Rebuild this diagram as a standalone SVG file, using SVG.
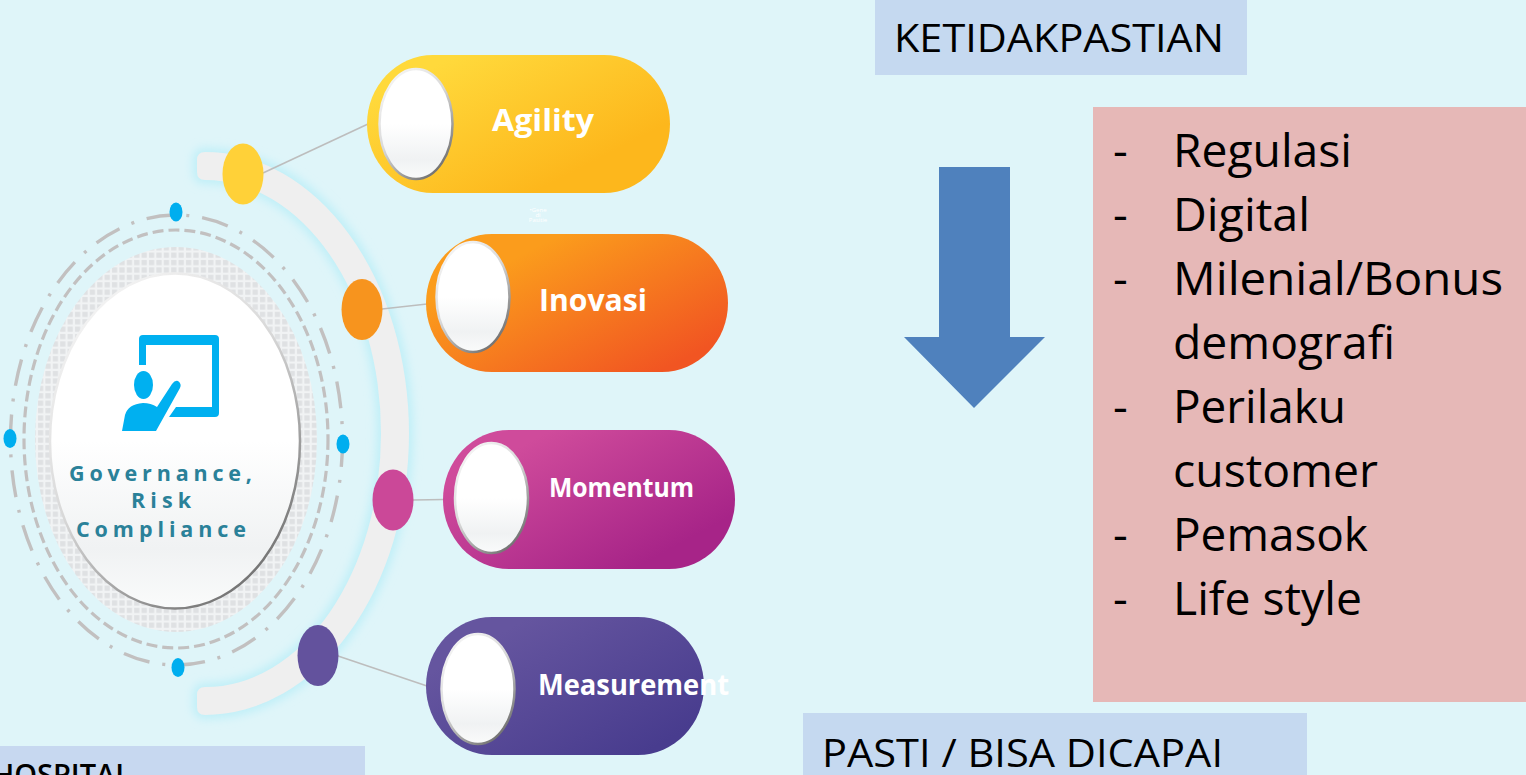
<svg xmlns="http://www.w3.org/2000/svg" width="1526" height="775" viewBox="0 0 1526 775">
<defs>
<style>
.t{font-family:"Open Sans","Noto Sans","Liberation Sans",sans-serif;}
.big{font-size:38px;fill:#000;}
.li{font-size:46px;fill:#000;}
.pill{font-weight:700;fill:#fff;}
.gov{font-weight:700;font-size:21.500px;fill:#2a8199;}
.conn{stroke:#bdbdbd;stroke-width:1.6;fill:none;}
.dot{fill:#00aeef;}
.knob{fill:url(#knobFill);stroke:url(#rim);stroke-width:2.500;}
</style>
<linearGradient id="gY" x1="0.1" y1="0.05" x2="0.95" y2="0.8"><stop offset="0.1" stop-color="#ffd93b"/><stop offset="0.85" stop-color="#fdb71c"/></linearGradient>
<linearGradient id="gO" x1="0.1" y1="0.05" x2="0.95" y2="0.8"><stop offset="0.2" stop-color="#fb9c1c"/><stop offset="1" stop-color="#f15522"/></linearGradient>
<linearGradient id="gM" x1="0.1" y1="0.05" x2="0.95" y2="0.8"><stop offset="0.15" stop-color="#cf4b9b"/><stop offset="0.92" stop-color="#a72488"/></linearGradient>
<linearGradient id="gP" x1="0.1" y1="0.05" x2="0.95" y2="0.8"><stop offset="0.15" stop-color="#65559f"/><stop offset="1" stop-color="#483c8e"/></linearGradient>
<linearGradient id="knobFill" x1="0.5" y1="0" x2="0.5" y2="1"><stop offset="0" stop-color="#fff"/><stop offset="0.5" stop-color="#fff"/><stop offset="0.82" stop-color="#f0f2f3"/><stop offset="1" stop-color="#fafbfb"/></linearGradient>
<linearGradient id="rim" x1="0.2" y1="0.05" x2="0.8" y2="0.95"><stop offset="0" stop-color="#f4f4f4"/><stop offset="0.45" stop-color="#d8d8d8"/><stop offset="1" stop-color="#6f6f6f"/></linearGradient>
<pattern id="grid" width="7.400" height="7.400" patternUnits="userSpaceOnUse"><rect width="7.400" height="7.400" fill="#f1f3f4"/><rect x="1" y="1" width="5.200" height="5.200" fill="#dfe1e3"/></pattern>
<filter id="glow" x="-20%" y="-20%" width="140%" height="140%"><feGaussianBlur stdDeviation="5"/></filter>
</defs>
<rect width="1526" height="775" fill="#dff5f9"/>

<g id="outer-arc">
<path d="M197 160Q197 152 205 152A204 281.500 0 0 1 205 715Q197 715 197 707V695Q197 687 205 687A176 253.500 0 0 0 205 180Q197 180 197 172Z" fill="#bfeff8" stroke="#bfeff8" stroke-width="8" filter="url(#glow)"/>
<path d="M197 160Q197 152 205 152A204 281.500 0 0 1 205 715Q197 715 197 707V695Q197 687 205 687A176 253.500 0 0 0 205 180Q197 180 197 172Z" fill="#efefef"/>
</g>

<g id="connectors">
<line class="conn" x1="263" y1="173" x2="368" y2="124"/>
<line class="conn" x1="382" y1="309" x2="427" y2="304"/>
<line class="conn" x1="413" y1="500" x2="444" y2="499.500"/>
<line class="conn" x1="338" y1="656" x2="427" y2="686"/>
</g>

<g id="hub">
<ellipse cx="176" cy="439.500" rx="141" ry="192.500" fill="url(#grid)"/>
<ellipse cx="176" cy="439" rx="152" ry="209" fill="none" stroke="#c2c0c0" stroke-width="3.200" stroke-dasharray="11 5"/>
<ellipse cx="176.500" cy="440" rx="166" ry="225" fill="none" stroke="#c2c0c0" stroke-width="3.400" stroke-dasharray="27 13 3 13"/>
<ellipse class="dot" cx="176" cy="212" rx="6.500" ry="9.500"/>
<ellipse class="dot" cx="343" cy="444" rx="6.500" ry="9.500"/>
<ellipse class="dot" cx="10" cy="438.500" rx="6.500" ry="9.500"/>
<ellipse class="dot" cx="178" cy="667.500" rx="6.500" ry="9.500"/>
<ellipse class="knob" cx="175" cy="441" rx="125" ry="167.500"/>
<g id="hub-icon" fill="#00b0f0">
<path d="M139 365V339Q139 335 143 335H215Q219 335 219 339V413Q219 417 215 417H169L176 407H212V345H146V365Z"/>
<ellipse cx="143.500" cy="385" rx="9.500" ry="14"/>
<path d="M122 431L125 415Q128 404 143 403Q151 403 157 407L172 384Q175 380 178 381Q182 384 180 388L156 431Z"/>
</g>
<text class="t gov" x="69" y="481" textLength="183">Governance,</text>
<text class="t gov" x="131" y="508" textLength="60">Risk</text>
<text class="t gov" x="76" y="537" textLength="170">Compliance</text>
</g>

<g id="node-agility">
<ellipse cx="243" cy="174" rx="20.500" ry="30.500" fill="#ffd138"/>
<rect x="367" y="55" width="303" height="138" rx="66" ry="69" fill="url(#gY)"/>
<ellipse class="knob" cx="416" cy="124" rx="36.500" ry="55"/>
<text class="t pill" x="492" y="131" font-size="31" textLength="102" lengthAdjust="spacingAndGlyphs">Agility</text>
</g>
<g id="node-inovasi">
<ellipse cx="362" cy="309.500" rx="20.500" ry="30.500" fill="#f7941e"/>
<rect x="426" y="234" width="302" height="138" rx="66" ry="69" fill="url(#gO)"/>
<ellipse class="knob" cx="473" cy="297" rx="36.500" ry="55"/>
<text class="t pill" x="539" y="311" font-size="31" textLength="108" lengthAdjust="spacingAndGlyphs">Inovasi</text>
</g>
<g id="node-momentum">
<ellipse cx="393" cy="500" rx="20.500" ry="30.500" fill="#cb4898"/>
<rect x="443" y="430" width="292" height="139" rx="66" ry="69.500" fill="url(#gM)"/>
<ellipse class="knob" cx="491.500" cy="498" rx="36.500" ry="55"/>
<text class="t pill" x="549" y="497" font-size="26" textLength="145" lengthAdjust="spacingAndGlyphs">Momentum</text>
</g>
<g id="node-measurement">
<ellipse cx="318" cy="655.500" rx="20.500" ry="30.500" fill="#63529d"/>
<rect x="426" y="617" width="278" height="138" rx="66" ry="69" fill="url(#gP)"/>
<ellipse class="knob" cx="478" cy="689" rx="36.500" ry="55"/>
<text class="t pill" x="538" y="695" font-size="29" textLength="191" lengthAdjust="spacingAndGlyphs">Measurement</text>
</g>

<g id="tiny-label" class="t" fill="#fff" font-size="6" text-anchor="middle">
<text x="538" y="212">•Gene</text>
<text x="538" y="217">di</text>
<text x="538" y="222">Pasitie</text>
</g>

<g id="box-ketidakpastian">
<rect x="875" y="0" width="372" height="75" fill="#c5d9f0"/>
<text class="t big" x="894" y="52" textLength="330" lengthAdjust="spacingAndGlyphs">KETIDAKPASTIAN</text>
</g>
<g id="arrow-down">
<polygon points="939,167 1010,167 1010,337 1045,337 974,408 904,337 939,337" fill="#4f81bd"/>
</g>
<g id="box-list">
<rect x="1093" y="107" width="433" height="595" fill="#e6b8b7"/>
<g class="t li">
<text x="1113" y="167">-</text><text x="1173" y="167" textLength="179" lengthAdjust="spacingAndGlyphs">Regulasi</text>
<text x="1113" y="231">-</text><text x="1173" y="231" textLength="137" lengthAdjust="spacingAndGlyphs">Digital</text>
<text x="1113" y="295">-</text><text x="1173" y="295" textLength="330" lengthAdjust="spacingAndGlyphs">Milenial/Bonus</text>
<text x="1173" y="359" textLength="222" lengthAdjust="spacingAndGlyphs">demografi</text>
<text x="1113" y="423">-</text><text x="1173" y="423" textLength="173" lengthAdjust="spacingAndGlyphs">Perilaku</text>
<text x="1173" y="487" textLength="205" lengthAdjust="spacingAndGlyphs">customer</text>
<text x="1113" y="551">-</text><text x="1173" y="551" textLength="195" lengthAdjust="spacingAndGlyphs">Pemasok</text>
<text x="1113" y="615">-</text><text x="1173" y="615" textLength="189" lengthAdjust="spacingAndGlyphs">Life style</text>
</g>
</g>
<g id="box-pasti">
<rect x="803" y="713" width="504" height="62" fill="#c5d9f0"/>
<text class="t big" x="822" y="767" textLength="401" lengthAdjust="spacingAndGlyphs">PASTI / BISA DICAPAI</text>
</g>
<g id="box-hospital">
<rect x="0" y="746" width="365" height="29" fill="#c7d8f0"/>
<text class="t" x="131" y="785" font-size="29" font-weight="600" text-anchor="end" fill="#000">HOSPITAL</text>
</g>
</svg>
